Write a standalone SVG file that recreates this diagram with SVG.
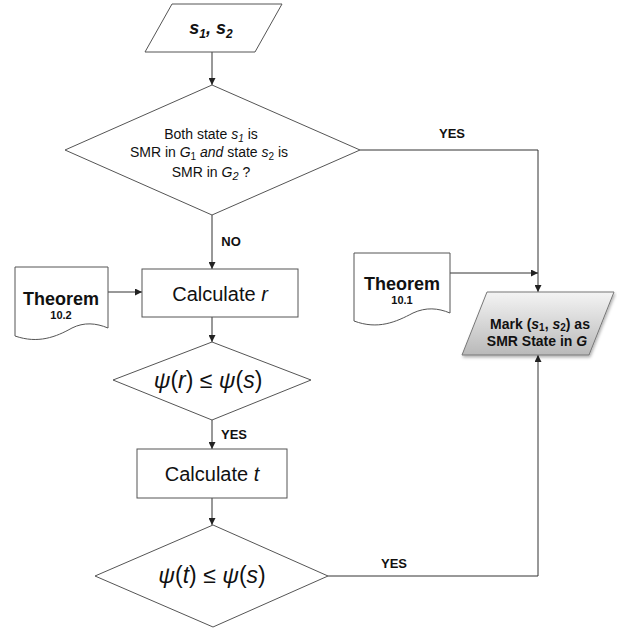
<svg xmlns="http://www.w3.org/2000/svg" width="617" height="632" viewBox="0 0 617 632">
  <style>
    text { font-family: "Liberation Sans", Arial, sans-serif; fill: #111; }
    .shape { fill: #fff; stroke: #555; stroke-width: 1; }
    .conn { fill: none; stroke: #333; stroke-width: 1; marker-end: url(#arrow); }
    .lbl { font-size: 13px; font-weight: bold; }
    .big { font-size: 20px; }
    .psi { font-size: 23px; }
    .th { font-size: 18px; font-weight: bold; }
    .thn { font-size: 11px; font-weight: bold; }
    .q { font-size: 14px; }
    .mk { font-size: 14px; font-weight: bold; }
    .it { font-style: italic; }
  </style>
  <defs>
    <marker id="arrow" viewBox="0 0 8 8" refX="8" refY="4" markerWidth="7" markerHeight="7" markerUnits="userSpaceOnUse" orient="auto">
      <path d="M0,0 L8,4 L0,8 Z" fill="#222"/>
    </marker>
    <linearGradient id="markFill" x1="0" y1="0" x2="0" y2="1">
      <stop offset="0" stop-color="#f4f4f4"/>
      <stop offset="1" stop-color="#b9b9b9"/>
    </linearGradient>
    <filter id="shadow" x="-10%" y="-10%" width="130%" height="140%">
      <feDropShadow dx="1" dy="2" stdDeviation="1.5" flood-color="#000" flood-opacity="0.3"/>
    </filter>
  </defs>

  <!-- connectors -->
  <g id="connectors">
    <path class="conn" d="M212,52 V85"/>
    <path class="conn" d="M212,215 V269"/>
    <path class="conn" d="M108,292 H142"/>
    <path class="conn" d="M212,317 V342"/>
    <path class="conn" d="M212,420 V449"/>
    <path class="conn" d="M212,498 V525"/>
    <path class="conn" d="M360,150 H538 V292"/>
    <path class="conn" d="M450,273 H538"/>
    <path class="conn" d="M328,576 H538 V355"/>
    <text class="lbl" x="452" y="138" text-anchor="middle">YES</text>
    <text class="lbl" x="231" y="246" text-anchor="middle">NO</text>
    <text class="lbl" x="234" y="439" text-anchor="middle">YES</text>
    <text class="lbl" x="394" y="568" text-anchor="middle">YES</text>
  </g>

  <!-- input states -->
  <g id="input">
    <path class="shape" d="M172,4 H282 L255,52 H145 Z"/>
    <text x="211" y="34" text-anchor="middle" font-size="18" font-weight="bold" font-style="italic">s<tspan font-size="12" dy="4">1</tspan><tspan dy="-4">, s</tspan><tspan font-size="12" dy="4">2</tspan></text>
  </g>

  <!-- SMR check in both components -->
  <g id="decision-smr">
    <path class="shape" d="M212,85 L360,150 L212,215 L65,150 Z"/>
    <text class="q" x="211" y="139" text-anchor="middle">Both state <tspan class="it">s</tspan><tspan class="it" font-size="10" dy="3">1</tspan><tspan dy="-3"> is</tspan></text>
    <text class="q" x="209" y="157" text-anchor="middle">SMR in <tspan class="it">G</tspan><tspan font-size="10" dy="3">1</tspan><tspan dy="-3"> </tspan><tspan class="it">and</tspan>  state <tspan class="it">s</tspan><tspan font-size="10" dy="3">2</tspan><tspan dy="-3"> is</tspan></text>
    <text class="q" x="211" y="177" text-anchor="middle">SMR in <tspan class="it">G</tspan><tspan class="it" font-size="11" dy="3">2</tspan><tspan dy="-3"> ?</tspan></text>
  </g>

  <!-- theorem 10.2 -->
  <g id="theorem-10-2">
    <path class="shape" d="M15,267 H108 V328 C96,323 84,322 72,328 C56,337 38,344 15,336 Z"/>
    <text class="th" x="61" y="305" text-anchor="middle">Theorem</text>
    <text class="thn" x="61" y="319" text-anchor="middle">10.2</text>
  </g>

  <!-- calculate r -->
  <g id="calc-r">
    <rect class="shape" x="142" y="269" width="156" height="48"/>
    <text class="big" x="220" y="301" text-anchor="middle">Calculate <tspan class="it">r</tspan></text>
  </g>

  <!-- psi(r) check -->
  <g id="decision-r">
    <path class="shape" d="M212,342 L311,380 L212,420 L113,380 Z"/>
    <text class="psi" x="208" y="388" text-anchor="middle"><tspan class="it">ψ</tspan>(<tspan class="it">r</tspan>) ≤ <tspan class="it">ψ</tspan>(<tspan class="it">s</tspan>)</text>
  </g>

  <!-- calculate t -->
  <g id="calc-t">
    <rect class="shape" x="137" y="449" width="150" height="49"/>
    <text class="big" x="212" y="481" text-anchor="middle">Calculate <tspan class="it">t</tspan></text>
  </g>

  <!-- psi(t) check -->
  <g id="decision-t">
    <path class="shape" d="M213,525 L328,576 L213,627 L95,576 Z"/>
    <text class="psi" x="212" y="583" text-anchor="middle"><tspan class="it">ψ</tspan>(<tspan class="it">t</tspan>) ≤ <tspan class="it">ψ</tspan>(<tspan class="it">s</tspan>)</text>
  </g>

  <!-- theorem 10.1 -->
  <g id="theorem-10-1">
    <path class="shape" d="M354,253 H450 V313 C438,308 426,307 413,313 C396,322 378,330 354,321 Z"/>
    <text class="th" x="402" y="290" text-anchor="middle">Theorem</text>
    <text class="thn" x="402" y="304" text-anchor="middle">10.1</text>
  </g>

  <!-- result: mark as SMR state -->
  <g id="mark-smr">
    <path d="M487,292 H614 L589,355 H462 Z" fill="url(#markFill)" stroke="#777" stroke-width="1" filter="url(#shadow)"/>
    <text class="mk" x="540" y="329" text-anchor="middle">Mark (<tspan class="it">s</tspan><tspan font-size="10" dy="2">1</tspan><tspan dy="-2">, </tspan><tspan class="it">s</tspan><tspan font-size="10" dy="2">2</tspan><tspan dy="-2">) as</tspan></text>
    <text class="mk" x="537" y="346" text-anchor="middle">SMR State in <tspan class="it">G</tspan></text>
  </g>
</svg>
